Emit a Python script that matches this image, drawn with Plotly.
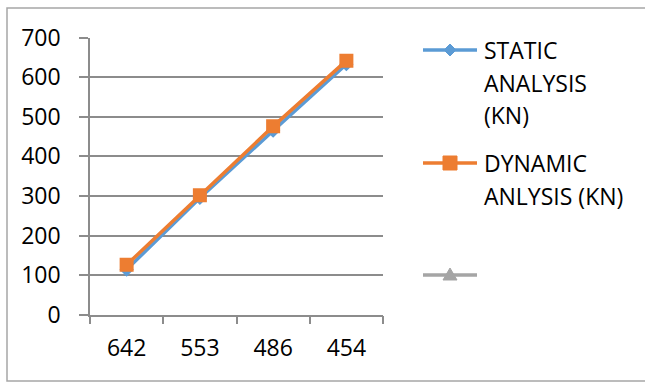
import plotly.graph_objects as go

# Column-section sizes on the category axis and the two load series (kN)
sections = ["642", "553", "486", "454"]
static_kn = [114, 295, 465, 633]
dynamic_kn = [126, 302, 476, 642]
third_series = [None, None, None, None]

series_labels = [["STATIC", "ANALYSIS", "(KN)"], ["DYNAMIC", "ANLYSIS (KN)"], []]
series_colors = ["#5b9bd5", "#ed7d31", "#a5a5a5"]
series_symbols = ["diamond", "square", "triangle-up"]
series_marker_sizes = [11, 14, 12]

W, H = 645, 383
FONT = "Open Sans"
FS = 23
GRID = "#8c8c8c"

fig = go.Figure()

for vals, color, sym, msize in zip([static_kn, dynamic_kn, third_series],
                                   series_colors, series_symbols, series_marker_sizes):
    fig.add_trace(go.Scatter(
        x=sections, y=vals, mode="lines+markers",
        line=dict(color=color, width=3.5),
        marker=dict(symbol=sym, size=msize, color=color),
        showlegend=False,
    ))


def px(x):
    return x / W


def py(y):
    return 1 - y / H


# Hand-built legend: key line + symbol, then one text row per label line
shapes = []
annotations = []
key_x0, key_x1 = 423, 477
key_cx = (key_x0 + key_x1) / 2
key_rows = [50, 163, 275]
row_step = 32.5
for labels, color, sym, ky in zip(series_labels, series_colors, series_symbols, key_rows):
    shapes.append(dict(type="line", xref="paper", yref="paper",
                       x0=px(key_x0), x1=px(key_x1), y0=py(ky), y1=py(ky),
                       line=dict(color=color, width=3.5)))
    if sym == "diamond":
        r = 6
        path = (f"M{px(key_cx - r)},{py(ky)} L{px(key_cx)},{py(ky - r)} "
                f"L{px(key_cx + r)},{py(ky)} L{px(key_cx)},{py(ky + r)} Z")
    elif sym == "square":
        r = 7
        path = (f"M{px(key_cx - r)},{py(ky - r)} L{px(key_cx + r)},{py(ky - r)} "
                f"L{px(key_cx + r)},{py(ky + r)} L{px(key_cx - r)},{py(ky + r)} Z")
    else:
        r = 7
        path = (f"M{px(key_cx - r)},{py(ky + 5)} L{px(key_cx)},{py(ky - 7)} "
                f"L{px(key_cx + r)},{py(ky + 5)} Z")
    shapes.append(dict(type="path", xref="paper", yref="paper", path=path,
                       fillcolor=color, line=dict(color=color, width=1)))
    for i, line in enumerate(labels):
        annotations.append(dict(
            x=px(482), y=py(ky + i * row_step), xref="paper", yref="paper",
            text=line, showarrow=False, xanchor="left", yanchor="middle",
            font=dict(family=FONT, size=FS, color="#000000"),
        ))

# Outer chart border (open on the right edge)
shapes.append(dict(type="rect", xref="paper", yref="paper",
                   x0=px(7), x1=1.01, y0=py(381), y1=py(8),
                   line=dict(color="#a6a6a6", width=1.5)))

plot_left, plot_right = 90, 383
plot_top, plot_bottom = 37.7, 314.7

fig.update_layout(
    width=W, height=H,
    margin=dict(l=0, r=0, t=0, b=0, pad=0),
    paper_bgcolor="white", plot_bgcolor="white",
    font=dict(family=FONT, size=FS, color="#000000"),
    xaxis=dict(
        type="category", domain=[px(plot_left), px(plot_right)],
        range=[-0.5, 3.5], tickson="boundaries",
        showgrid=False, showline=True, linecolor=GRID, linewidth=1.5,
        ticks="outside", ticklen=8, tickcolor=GRID, tickwidth=1.5,
        tickfont=dict(family=FONT, size=FS), zeroline=False,
        automargin=False, ticklabelstandoff=12,
    ),
    yaxis=dict(
        domain=[py(plot_bottom), py(plot_top)],
        range=[0, 700], dtick=100,
        showgrid=True, gridcolor=GRID, gridwidth=1.5,
        showline=True, linecolor=GRID, linewidth=1.5,
        ticks="outside", ticklen=9, tickcolor=GRID, tickwidth=1.5,
        tickfont=dict(family=FONT, size=FS), zeroline=False,
        automargin=False, ticklabelstandoff=14,
    ),
    shapes=shapes,
    annotations=annotations,
)

fig.write_html("out.html")
